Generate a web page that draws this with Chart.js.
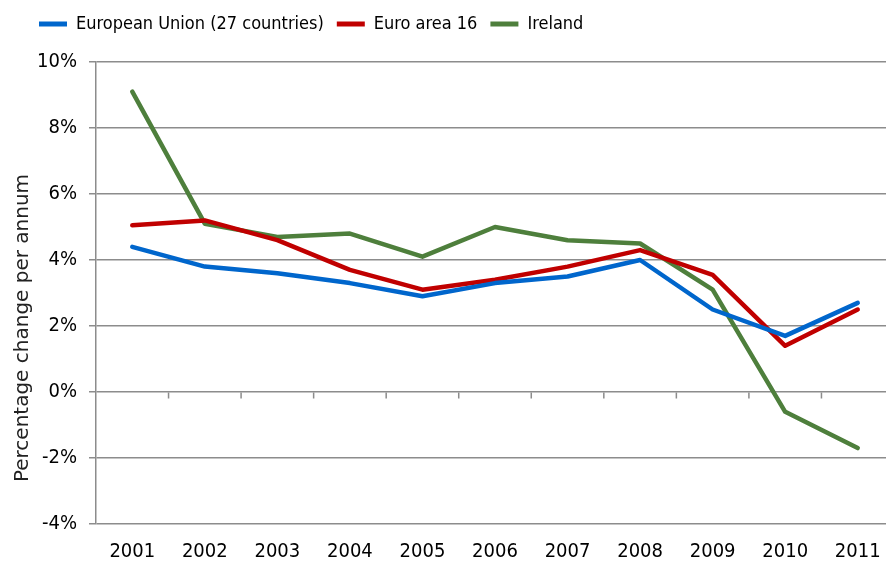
<!DOCTYPE html>
<html>
<head>
<meta charset="utf-8">
<script src="https://cdn.jsdelivr.net/npm/chart.js@4.4.1/dist/chart.umd.min.js"></script>
<style>
  html, body { margin: 0; padding: 0; background: #fff; overflow: hidden; }
  #wrap { width: 894px; height: 566px; }
</style>
</head>
<body>
<div id="wrap"><canvas id="chart" width="894" height="566"></canvas></div>
<script>
const years = ["2001", "2002", "2003", "2004", "2005", "2006", "2007", "2008", "2009", "2010", "2011"];
const eu27 = [4.4, 3.8, 3.6, 3.3, 2.9, 3.3, 3.5, 4.0, 2.5, 1.7, 2.7];
const euroArea16 = [5.05, 5.2, 4.6, 3.7, 3.1, 3.4, 3.8, 4.3, 3.55, 1.4, 2.5];
const ireland = [9.1, 5.1, 4.7, 4.8, 4.1, 5.0, 4.6, 4.5, 3.1, -0.6, -1.7];
const yTicks = [-4, -2, 0, 2, 4, 6, 8, 10];
const yTitle = "Percentage change per annum";

const tickFont = "'DejaVu Sans Condensed', sans-serif";
const titleFont = "'DejaVu Sans', sans-serif";
const gridColor = "#8c8c8c";

// small tick marks on the zero line between categories (Excel style)
const zeroTicks = {
    id: "zeroTicks",
    afterDatasetsDraw(chart) {
        const x = chart.scales.x;
        const y = chart.scales.y;
        const zy = Math.round(y.getPixelForValue(0)) + 0.5;
        const c = chart.ctx;
        c.save();
        c.strokeStyle = gridColor;
        c.lineWidth = 1.5;
        c.beginPath();
        for (let i = 1; i < years.length; i++) {
            const px = (x.getPixelForValue(i - 1) + x.getPixelForValue(i)) / 2;
            c.moveTo(px, zy);
            c.lineTo(px, zy + 6);
        }
        c.stroke();
        c.restore();
    }
};

// y axis title sits a bit lower than the plot centre in the original
const sideTitle = {
    id: "sideTitle",
    afterDraw(chart) {
        const c = chart.ctx;
        c.save();
        c.translate(23, 328);
        c.rotate(-Math.PI / 2);
        c.font = "20px " + titleFont;
        c.fillStyle = "#222";
        c.textAlign = "center";
        c.textBaseline = "middle";
        c.fillText(yTitle, 0, 0);
        c.restore();
    }
};

// legend box: fixed height, pushed left like the original
const legendBox = {
    id: "legendBox",
    beforeInit(chart) {
        const origFit = chart.legend.fit;
        chart.legend.fit = function () {
            origFit.bind(chart.legend)();
            this.height = 62;
        };
    },
    beforeDraw(chart) {
        chart.legend.left = 26;
        chart.legend.top = 2;
    }
};

const ctx = document.getElementById("chart").getContext("2d");
new Chart(ctx, {
    type: "line",
    data: {
        labels: years,
        datasets: [
            { label: "European Union (27 countries)", data: eu27, borderColor: "#0066cc", backgroundColor: "#0066cc" },
            { label: "Euro area 16", data: euroArea16, borderColor: "#c00000", backgroundColor: "#c00000" },
            { label: "Ireland", data: ireland, borderColor: "#4e7f3c", backgroundColor: "#4e7f3c" }
        ]
    },
    options: {
        responsive: false,
        animation: false,
        layout: { padding: 0 },
        elements: {
            line: { borderWidth: 4.5, tension: 0, borderCapStyle: "round", borderJoinStyle: "round" },
            point: { radius: 0, hoverRadius: 0 }
        },
        plugins: {
            legend: {
                position: "top",
                align: "start",
                labels: {
                    font: { family: tickFont, size: 18 },
                    color: "#000",
                    boxWidth: 28,
                    boxHeight: 5,
                    padding: 13,
                    generateLabels(chart) {
                        return chart.data.datasets.map((ds, i) => ({
                            text: ds.label,
                            fillStyle: ds.borderColor,
                            strokeStyle: ds.borderColor,
                            lineWidth: 0,
                            datasetIndex: i,
                            fontColor: "#000"
                        }));
                    }
                }
            },
            tooltip: { enabled: false }
        },
        scales: {
            x: {
                offset: true,
                grid: { display: false },
                border: { display: false },
                ticks: { font: { family: tickFont, size: 20 }, color: "#000", padding: 8, maxRotation: 0 },
                afterFit(s) { s.height = 42; }
            },
            y: {
                min: -4,
                max: 10,
                afterBuildTicks(s) { s.ticks = yTicks.map(v => ({ value: v })); },
                grid: { color: gridColor, lineWidth: 1.5, tickLength: 7 },
                border: { color: gridColor, width: 1.5 },
                ticks: {
                    font: { family: tickFont, size: 20 },
                    color: "#000",
                    padding: 12,
                    callback: v => v + "%"
                },
                afterFit(s) { s.width = 96; }
            }
        }
    },
    plugins: [zeroTicks, legendBox, sideTitle]
});
</script>
</body>
</html>
